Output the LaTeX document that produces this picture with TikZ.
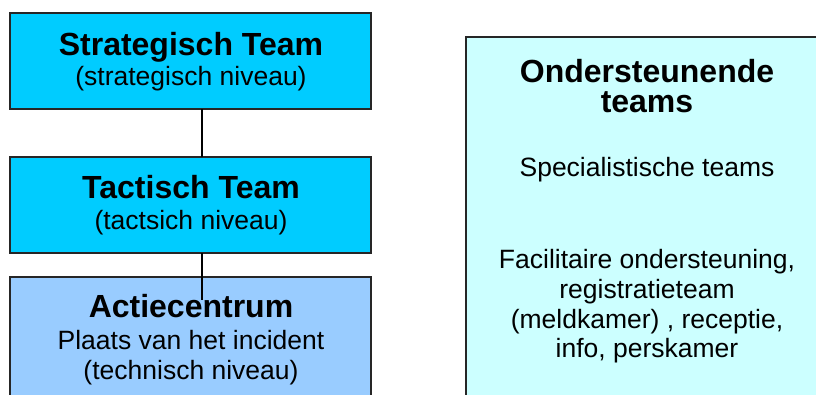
\documentclass[tikz,border=0pt]{standalone}
\usepackage{fontspec}
\setmainfont{Liberation Sans}
\definecolor{teamcyan}{HTML}{00CCFF}
\definecolor{actblue}{HTML}{99CCFF}
\definecolor{supcyan}{HTML}{CCFFFF}
\begin{document}
\begin{tikzpicture}[x=1pt,y=-1pt,
  box/.style={draw=black!85, line width=1.5pt, inner sep=0pt, outer sep=0pt, rectangle, anchor=north west},
  edge/.style={draw=black!85, line width=1.5pt},
  ttl/.style={anchor=base, font=\bfseries\fontsize{32}{36}\selectfont, inner sep=0pt},
  sub/.style={anchor=base, font=\fontsize{26.5}{30}\selectfont, inner sep=0pt},
  link/.style={line width=1.5pt, draw=black}]
\useasboundingbox (0,0) rectangle (816,394);
\clip (0,0) rectangle (816,394);
\fill[white] (0,0) rectangle (816,394);
% boxes
\node[box, fill=teamcyan, minimum width=361pt, minimum height=96pt] (strat) at (10,13) {};
\node[box, fill=teamcyan, minimum width=361pt, minimum height=96pt] (tact) at (10,157) {};
\node[box, fill=actblue, minimum width=361pt, minimum height=200pt] (actie) at (10,277) {};
\node[box, draw=none, fill=supcyan, minimum width=450pt, minimum height=450pt] (support) at (466,37) {};
\draw[edge] (support.south west) -- (support.north west) -- (support.north east);
% texts
\node[ttl] (stratT) at (191,55) {Strategisch Team};
\node[sub] (stratS) at (191,85) {(strategisch niveau)};
\node[ttl] (tactT) at (191,198) {Tactisch Team};
\node[sub] (tactS) at (191,229) {(tactsich niveau)};
\node[ttl] (actT) at (191,317) {Actiecentrum};
\node[sub] (actS1) at (191,349) {Plaats van het incident};
\node[sub] (actS2) at (191,379) {(technisch niveau)};
\node[ttl] (supT1) at (647,82) {Ondersteunende};
\node[ttl] (supT2) at (647,112) {teams};
\node[sub] (supS1) at (647,176) {Specialistische teams};
\node[sub] (supS2) at (647,268) {Facilitaire ondersteuning,};
\node[sub] (supS3) at (647,298) {registratieteam};
\node[sub] (supS4) at (647,328) {(meldkamer) , receptie,};
\node[sub] (supS5) at (647,357) {info, perskamer};
% connectors
\coordinate (xline) at (202,0);
\coordinate (actend) at (202,300);
\draw[link] (strat.south -| xline) -- (tact.north -| xline);
\draw[link] (tact.south -| xline) -- (actend);
\end{tikzpicture}
\end{document}
